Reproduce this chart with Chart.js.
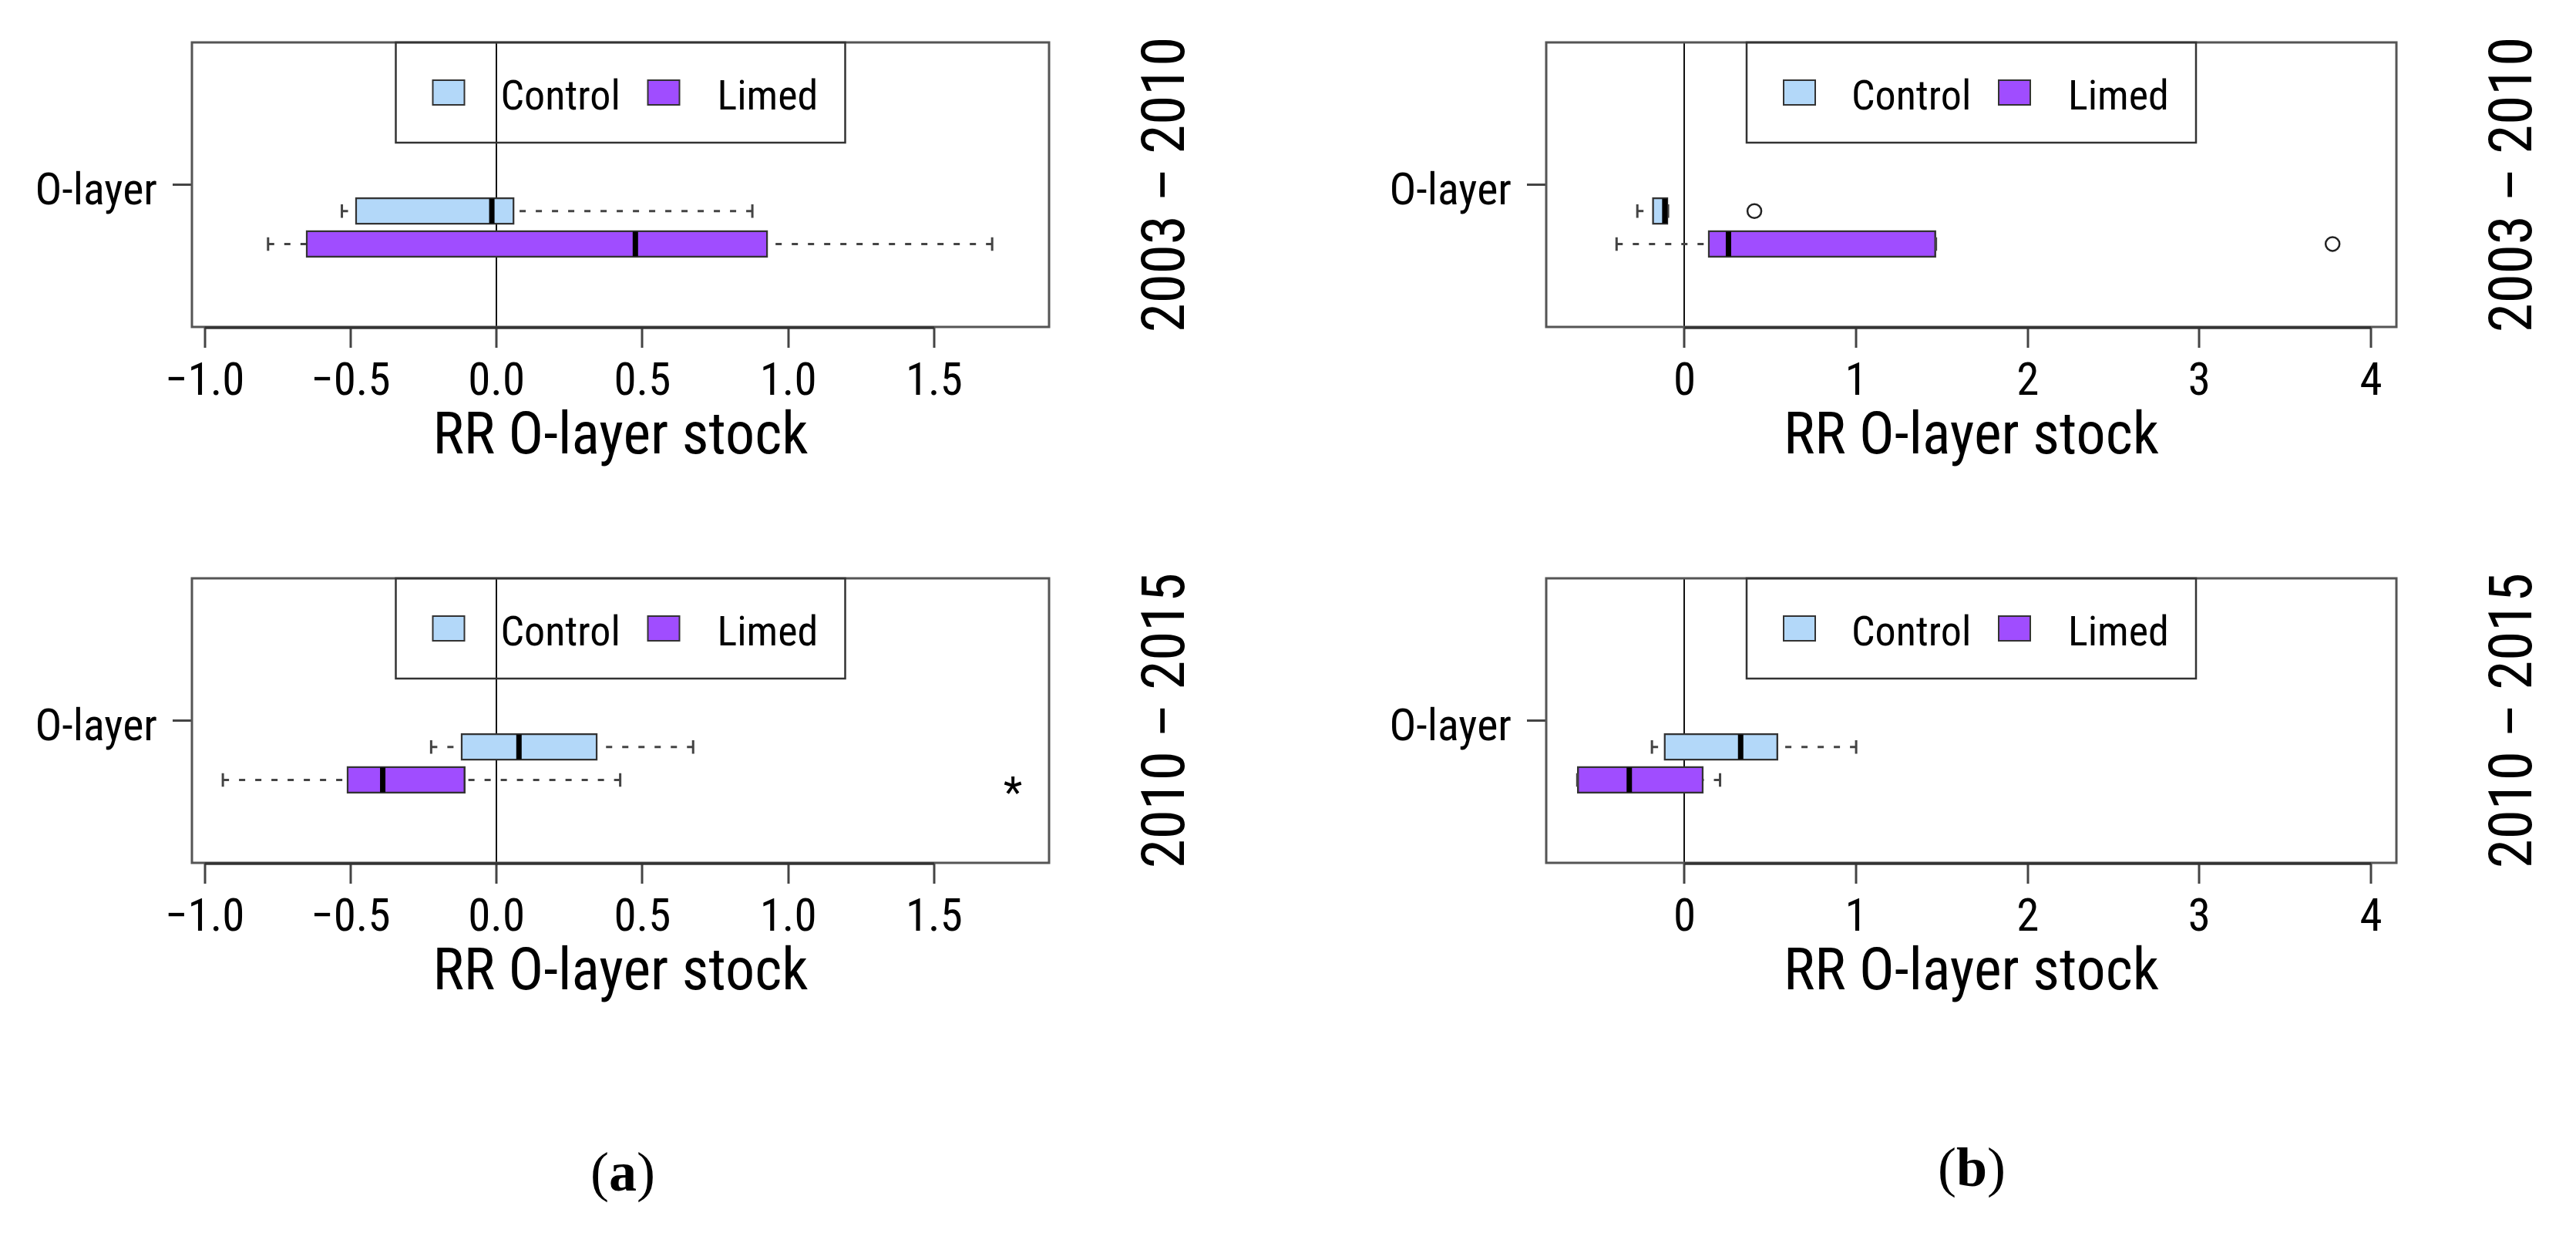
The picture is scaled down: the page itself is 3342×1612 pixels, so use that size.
<!DOCTYPE html>
<html><head><meta charset="utf-8">
<script src="https://cdn.jsdelivr.net/npm/chart.js@4.4.1/dist/chart.umd.min.js"></script>
<style>
html,body{margin:0;padding:0;background:#fff;}
body{width:3342px;height:1612px;position:relative;overflow:hidden;}
.panel{position:absolute;}
.sub{position:absolute;font-family:"Liberation Serif","Times New Roman",serif;font-size:72px;color:#000;transform:translate(-50%,-50%);white-space:nowrap;line-height:1;}
</style></head><body>
<div class="panel" style="left:0;top:0;width:1650px;height:696px"><canvas id="a1" width="1650" height="696"></canvas></div>
<div class="panel" style="left:1650px;top:0;width:1692px;height:696px"><canvas id="b1" width="1692" height="696"></canvas></div>
<div class="panel" style="left:0;top:695px;width:1650px;height:696px"><canvas id="a2" width="1650" height="696"></canvas></div>
<div class="panel" style="left:1650px;top:695px;width:1692px;height:696px"><canvas id="b2" width="1692" height="696"></canvas></div>
<div class="sub" style="left:808px;top:1520px">(<b>a</b>)</div>
<div class="sub" style="left:2558px;top:1514px">(<b>b</b>)</div>
<script>
// ---------- data ----------
const categories = ['Control', 'Limed'];
const periods = ['2003 \u2013 2010', '2010 \u2013 2015'];
const axisTitle = 'RR O-layer stock';
const layerLabel = 'O-layer';
const ticksA = [-1.0, -0.5, 0.0, 0.5, 1.0, 1.5];
const tickLabelsA = ['\u22121.0', '\u22120.5', '0.0', '0.5', '1.0', '1.5'];
const ticksB = [0, 1, 2, 3, 4];
const tickLabelsB = ['0', '1', '2', '3', '4'];
// five-number summaries: [lower whisker, Q1, median, Q3, upper whisker]
const a2003Control = [-0.53, -0.484, -0.016, 0.061, 0.877];
const a2003Limed   = [-0.783, -0.653, 0.476, 0.930, 1.699];
const a2010Control = [-0.224, -0.122, 0.077, 0.346, 0.674];
const a2010Limed   = [-0.938, -0.513, -0.390, -0.107, 0.424];
const b2003Control = [-0.275, -0.188, -0.115, -0.096, -0.096];
const b2003Limed   = [-0.396, 0.137, 0.256, 1.465, 1.465];
const b2010Control = [-0.190, -0.120, 0.327, 0.545, 1.000];
const b2010Limed   = [-0.625, -0.625, -0.322, 0.110, 0.207];
// outliers
const b2003ControlOut = [0.407];
const b2003LimedOut = [3.776];
// significance mark (*) on the Limed row, panel (a) 2010-2015
const a2010LimedStar = [1.77];

const FONT = '"Roboto Condensed", "Liberation Sans", Arial, sans-serif';
const CTRL_FILL = '#B3D8F9';
const LIME_FILL = '#A04DFF';
const FRAME = '#555555';

// ---------- plugin drawing the boxplot extras ----------
const rbox = {
  id: 'rbox',
  afterDatasetsDraw(chart, args, o) {
    const {ctx, chartArea: ca, scales: {x}} = chart;
    const px = v => x.getPixelForValue(v);
    ctx.save();
    o.stats.forEach((s, i) => {
      const el = chart.getDatasetMeta(i).data[0];
      const yc = el.y, h = el.height;
      ctx.strokeStyle = '#444'; ctx.lineWidth = 3; ctx.setLineDash([8, 13]);
      ctx.beginPath();
      ctx.moveTo(px(s[0]), yc); ctx.lineTo(px(s[1]), yc);
      ctx.moveTo(px(s[4]), yc); ctx.lineTo(px(s[3]), yc);
      ctx.stroke();
      ctx.setLineDash([]);
      ctx.beginPath();
      [s[0], s[4]].forEach(v => { ctx.moveTo(px(v), yc - h / 4); ctx.lineTo(px(v), yc + h / 4); });
      ctx.stroke();
      ctx.strokeStyle = '#000'; ctx.lineWidth = 7;
      ctx.beginPath(); ctx.moveTo(px(s[2]), yc - h / 2 + 1.5); ctx.lineTo(px(s[2]), yc + h / 2 - 1.5); ctx.stroke();
    });
    (o.stars || []).forEach(st => {
      const el = chart.getDatasetMeta(st.row).data[0];
      ctx.fillStyle = '#000'; ctx.font = `56px ${FONT}`;
      ctx.textAlign = 'center'; ctx.textBaseline = 'alphabetic';
      ctx.fillText('*', px(st.value), el.y + 36);
    });
    // plot frame + axis line between first and last tick
    ctx.strokeStyle = FRAME; ctx.lineWidth = 3;
    ctx.strokeRect(ca.left, ca.top, ca.right - ca.left, ca.bottom - ca.top);
    ctx.strokeStyle = '#333'; ctx.lineWidth = 3.5;
    ctx.beginPath();
    ctx.moveTo(px(o.ticks[0]), ca.bottom + 1); ctx.lineTo(px(o.ticks[o.ticks.length - 1]), ca.bottom + 1);
    ctx.stroke();
    // legend (top, inside plot)
    const lw = 583, lh = 130;
    const lx = (ca.left + ca.right) / 2 - lw / 2, ly = ca.top;
    ctx.strokeStyle = '#333'; ctx.lineWidth = 2.5;
    ctx.strokeRect(lx, ly, lw, lh);
    const sw = [48, 327], tx = [136, 417], fills = [CTRL_FILL, LIME_FILL];
    categories.forEach((c, i) => {
      ctx.fillStyle = fills[i];
      ctx.fillRect(lx + sw[i], ly + lh / 2 - 16, 41, 32);
      ctx.strokeStyle = '#333'; ctx.lineWidth = 2;
      ctx.strokeRect(lx + sw[i], ly + lh / 2 - 16, 41, 32);
      ctx.fillStyle = '#000'; ctx.font = `54px ${FONT}`;
      ctx.textAlign = 'left'; ctx.textBaseline = 'middle';
      ctx.fillText(c, lx + tx[i], ly + lh / 2 + 8);
    });
    // period label on the right, reading upwards
    ctx.save();
    ctx.translate(ca.right + 156, (ca.top + ca.bottom) / 2);
    ctx.rotate(-Math.PI / 2);
    ctx.fillStyle = '#000'; ctx.font = `77px ${FONT}`;
    ctx.textAlign = 'center'; ctx.textBaseline = 'middle';
    ctx.fillText(o.period, 0, 0);
    ctx.restore();
    ctx.restore();
  }
};

function makePanel(id, cfg) {
  const rowY = [0.8, 0.55];
  const fills = [CTRL_FILL, LIME_FILL];
  const datasets = cfg.stats.map((s, i) => ({
    type: 'bar', label: categories[i], indexAxis: 'y', grouped: false,
    barThickness: 35,
    data: [{y: rowY[i], x: [s[1], s[3]]}],
    backgroundColor: fills[i], borderColor: '#333', borderWidth: 2.5, borderSkipped: false
  }));
  cfg.outliers.forEach((arr, i) => {
    datasets.push({
      type: 'scatter', label: categories[i] + ' outliers', indexAxis: 'x',
      data: arr.map(v => ({x: v, y: rowY[i]})),
      pointStyle: 'circle', pointRadius: 9, pointBorderWidth: 2.5,
      pointBackgroundColor: 'rgba(0,0,0,0)', pointBorderColor: '#222'
    });
  });
  new Chart(document.getElementById(id), {
    type: 'bar',
    data: {datasets},
    options: {
      responsive: false, animation: false, devicePixelRatio: 1,
      layout: {padding: {top: 55, right: cfg.rightPad, left: 0, bottom: 0}},
      plugins: {
        legend: {display: false}, tooltip: {enabled: false},
        rbox: {stats: cfg.stats, period: cfg.period, stars: cfg.stars || [], ticks: cfg.ticks}
      },
      scales: {
        x: {
          type: 'linear', min: cfg.xMin, max: cfg.xMax, bounds: 'data', offset: false,
          afterBuildTicks: s => { s.ticks = cfg.ticks.map(v => ({value: v})); },
          afterFit: s => { s.height = 272; },
          ticks: {
            callback: (v, i) => cfg.tickLabels[i],
            font: {family: FONT, size: 59}, color: '#000', padding: 11,
            maxRotation: 0, autoSkip: false
          },
          grid: {
            offset: false,
            color: c => (c.tick && c.tick.value === 0) ? '#111' : 'rgba(0,0,0,0)',
            lineWidth: 2, drawTicks: true, tickLength: 27, tickColor: '#444', tickWidth: 3
          },
          border: {display: false},
          title: {display: true, text: axisTitle, font: {family: FONT, size: 76}, color: '#000',
                  padding: {top: 0, bottom: 81}}
        },
        y: {
          type: 'linear', min: -0.08, max: 2.08, bounds: 'data', offset: false, beginAtZero: false,
          afterBuildTicks: s => { s.ticks = [{value: 1}]; },
          afterFit: s => { s.width = cfg.left; },
          ticks: {callback: () => layerLabel, font: {family: FONT, size: 58}, color: '#000', padding: 20, labelOffset: 11},
          grid: {offset: false, drawOnChartArea: false, drawTicks: true, tickLength: 25, tickColor: '#444', tickWidth: 3},
          border: {display: false}
        }
      }
    },
    plugins: [rbox]
  });
}

const A = {xMin: -1.044, xMax: 1.894, ticks: ticksA, tickLabels: tickLabelsA, left: 249, rightPad: 289};
const B = {xMin: -0.806, xMax: 4.148, ticks: ticksB, tickLabels: tickLabelsB, left: 356, rightPad: 233};

makePanel('a1', Object.assign({}, A, {stats: [a2003Control, a2003Limed], outliers: [[], []], period: periods[0]}));
makePanel('a2', Object.assign({}, A, {stats: [a2010Control, a2010Limed], outliers: [[], []], period: periods[1],
  stars: a2010LimedStar.map(v => ({row: 1, value: v}))}));
makePanel('b1', Object.assign({}, B, {stats: [b2003Control, b2003Limed], outliers: [b2003ControlOut, b2003LimedOut], period: periods[0]}));
makePanel('b2', Object.assign({}, B, {stats: [b2010Control, b2010Limed], outliers: [[], []], period: periods[1]}));
</script>
</body></html>
